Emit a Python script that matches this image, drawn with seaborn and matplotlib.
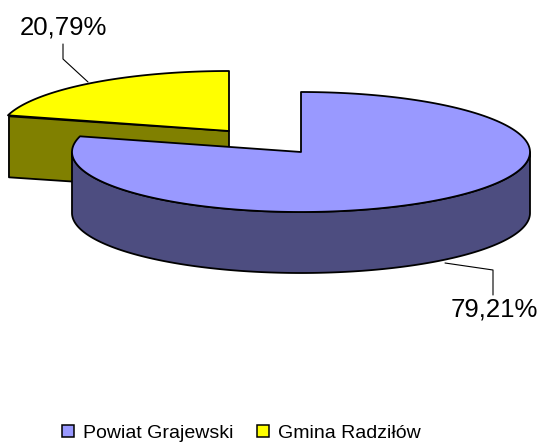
import numpy as np
import matplotlib
matplotlib.use("Agg")
import matplotlib.pyplot as plt
from matplotlib.patches import Patch
import seaborn as sns

labels = ["Powiat Grajewski", "Gmina Radziłów"]
shares = [79.21, 20.79]
top_colors = ["#9999ff", "#ffff00"]
side_colors = ["#4d4d80", "#808000"]

sns.set_style("white")
plt.rcParams["font.family"] = ["Liberation Sans", "DejaVu Sans"]
plt.rcParams["text.color"] = "black"

fig = plt.figure(figsize=(5.39, 4.43), dpi=100)
ax = fig.add_axes([0, 0, 1, 1])
ax.set_xlim(0, 539)
ax.set_ylim(443, 0)
ax.axis("off")

RX, RY, DEPTH = 229, 60, 61


# clockwise from 12 o'clock, like the pie in the picture
def rim(cx, cy, start, end):
    t = np.radians(np.linspace(start, end, 200))
    return cx + RX * np.sin(t), cy - RY * np.cos(t)


def fill(x, y, color):
    ax.fill(x, y, facecolor=color, edgecolor="black", linewidth=1.3, joinstyle="round")


split = shares[0] / sum(shares) * 360

# yellow slice, pulled out to the upper left
cx, cy = 229, 131
ex, ey = rim(cx, cy, split, 360)
fill([ex[0] + 1, cx, cx, ex[0] + 1], [ey[0] + 1, cy, cy + DEPTH, ey[0] + DEPTH + 1], side_colors[1])
fill(np.r_[cx, ex], np.r_[cy, ey], top_colors[1])

# main slice
cx, cy = 301, 152
wx, wy = rim(cx, cy, 90, min(split, 270))
fill(np.r_[wx, wx[::-1]], np.r_[wy, wy[::-1] + DEPTH], side_colors[0])
mx, my = rim(cx, cy, 0, split)
fill(np.r_[cx, mx], np.r_[cy, my], top_colors[0])

# leader lines and percent labels
ax.plot([63, 63, 88], [44, 59, 82], color="black", lw=0.8)
ax.plot([445, 493, 493], [263, 270, 295], color="black", lw=0.8)
fmt = lambda v: f"{v:.2f}".replace(".", ",") + "%"
ax.text(63, 27, fmt(shares[1]), ha="center", va="center", fontsize=18.5)
ax.text(494, 309, fmt(shares[0]), ha="center", va="center", fontsize=18.5)

handles = [Patch(facecolor=c, edgecolor="black", linewidth=1.1, label=l)
           for c, l in zip(top_colors, labels)]
ax.legend(handles=handles, ncol=2, loc="center", bbox_to_anchor=(0.448, 0.022),
          bbox_transform=ax.transAxes, frameon=False, fontsize=14,
          handlelength=0.6, handleheight=0.6, handletextpad=0.46,
          columnspacing=1.25, borderpad=0, borderaxespad=0)

fig.savefig("out.png", dpi=100)
